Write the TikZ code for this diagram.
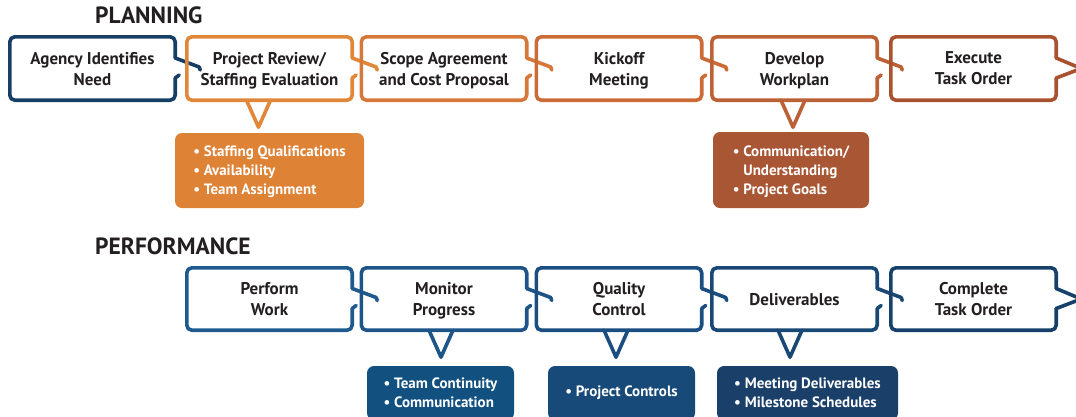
\documentclass[tikz,border=0pt]{standalone}
\usepackage{fontspec}
\setmainfont{PT Sans}
\usepackage{xcolor}

\definecolor{navyA}{HTML}{173F66}
\definecolor{orgA}{HTML}{E0873A}
\definecolor{orgB}{HTML}{D6783A}
\definecolor{orgC}{HTML}{CB6C37}
\definecolor{orgD}{HTML}{BC6035}
\definecolor{orgE}{HTML}{A9522F}
\definecolor{bluA}{HTML}{1E5A8E}
\definecolor{bluB}{HTML}{1D5588}
\definecolor{bluC}{HTML}{1B4E80}
\definecolor{bluD}{HTML}{1A4875}
\definecolor{bluE}{HTML}{17416B}
\definecolor{noteA}{HTML}{DE8236}
\definecolor{noteB}{HTML}{A85634}
\definecolor{noteC}{HTML}{12507F}
\definecolor{noteD}{HTML}{174A78}
\definecolor{noteE}{HTML}{1A406A}
\definecolor{inkgray}{HTML}{231F20}

% outline of a step box, tail running into the next box
\newcommand{\stepframe}[2]{%
  \draw[frame,color=#2,rounded corners=5pt] ([yshift=-9.5pt]#1.east) -- (#1.south east) -- (#1.south west)
    -- (#1.north west) -- (#1.north east) -- ([yshift=10.5pt]#1.east);
  \draw[frame,color=#2] ([yshift=10.5pt]#1.east) -- ([xshift=24pt,yshift=1.5pt]#1.east) -- ([xshift=25pt,yshift=-1.5pt]#1.east);
  \draw[frame,color=#2] ([xshift=4pt,yshift=-6.5pt]#1.east) -- ([yshift=-9.5pt]#1.east);}
% last box of a row ends in a point
\newcommand{\lastframe}[2]{%
  \draw[frame,color=#2,rounded corners=5pt] ([yshift=-9.5pt]#1.east) -- (#1.south east) -- (#1.south west)
    -- (#1.north west) -- (#1.north east) -- ([yshift=10.5pt]#1.east);
  \draw[frame,color=#2] ([yshift=10.5pt]#1.east) -- ([xshift=25pt]#1.east) -- ([yshift=-9.5pt]#1.east);}
% pointer below a box
\newcommand{\downtip}[3]{%
  \draw[frame,color=#3] ([xshift={#2pt-12pt}]#1.south) -- ([xshift=#2pt,yshift=-27pt]#1.south) -- ([xshift={#2pt+12pt}]#1.south);}

\begin{document}
\begin{tikzpicture}[x=1pt,y=-1pt,
    every node/.style={text=inkgray},
    stepbox/.style={minimum width=165pt,minimum height=63pt,inner sep=0pt,align=center,
      font=\fontsize{17}{21}\selectfont\bfseries,text depth=-5pt},
    frame/.style={line width=3.6pt,line cap=round,line join=round},
    note/.style={rounded corners=7pt,inner sep=0pt,align=left,text=white,
      font=\fontsize{15}{19}\selectfont\bfseries},
    heading/.style={anchor=base west,inner sep=0pt,font=\fontsize{23.5}{26}\selectfont\bfseries},
  ]
  \useasboundingbox (0,0) rectangle (1076,416);

  \node[heading] (plan) at (95,23) {PLANNING};
  \node[heading] (perf) at (95,254) {PERFORMANCE};

  % planning row
  \foreach \n/\x/\t in {p1/92.5/{Agency Identifies\\Need},
                        p2/269.5/{Project Review/\\Staffing Evaluation},
                        p3/444/{Scope Agreement\\and Cost Proposal},
                        p4/619/{Kickoff\\Meeting},
                        p5/794.5/{Develop\\Workplan},
                        p6/973.5/{Execute\\Task Order}} {
    \node[stepbox] (\n) at (\x,68.5) {\t};
  }
  \foreach \n/\c in {p1/navyA,p2/orgA,p3/orgB,p4/orgC,p5/orgD} {
    \stepframe{\n}{\c}
  }
  \lastframe{p6}{orgE}
  \downtip{p2}{-11}{orgA}
  \downtip{p5}{-1.5}{orgD}

  \node[note,fill=noteA,minimum width=189pt,minimum height=75pt,text depth=-3pt] (n1) at (269.5,170.5)
    {\textbullet\ Staffing Qualifications\\\textbullet\ Availability\\\textbullet\ Team Assignment};
  \node[note,fill=noteB,minimum width=156pt,minimum height=76pt,text depth=-3pt] (n2) at (791,170)
    {\textbullet\ Communication/\\\hphantom{\textbullet\ }Understanding\\\textbullet\ Project Goals};

  % performance row
  \foreach \n/\x/\t in {q1/269.5/{Perform\\Work},
                        q2/444/{Monitor\\Progress},
                        q3/619/{Quality\\Control},
                        q4/794.5/{Deliverables},
                        q5/973.5/{Complete\\Task Order}} {
    \node[stepbox,minimum height=62pt] (\n) at (\x,299) {\t};
  }
  \foreach \n/\c in {q1/bluA,q2/bluB,q3/bluC,q4/bluD} {
    \stepframe{\n}{\c}
  }
  \lastframe{q5}{bluE}
  \downtip{q2}{-3}{bluB}
  \downtip{q3}{-3}{bluC}
  \downtip{q4}{-4.5}{bluD}

  \node[note,fill=noteC,minimum width=147pt,minimum height=54pt] (n3) at (440.5,393)
    {\textbullet\ Team Continuity\\\textbullet\ Communication};
  \node[note,fill=noteD,minimum width=147pt,minimum height=54pt] (n4) at (621.5,393)
    {\textbullet\ Project Controls};
  \node[note,fill=noteE,minimum width=181pt,minimum height=54pt] (n5) at (807.5,393)
    {\textbullet\ Meeting Deliverables\\\textbullet\ Milestone Schedules};
\end{tikzpicture}
\end{document}
